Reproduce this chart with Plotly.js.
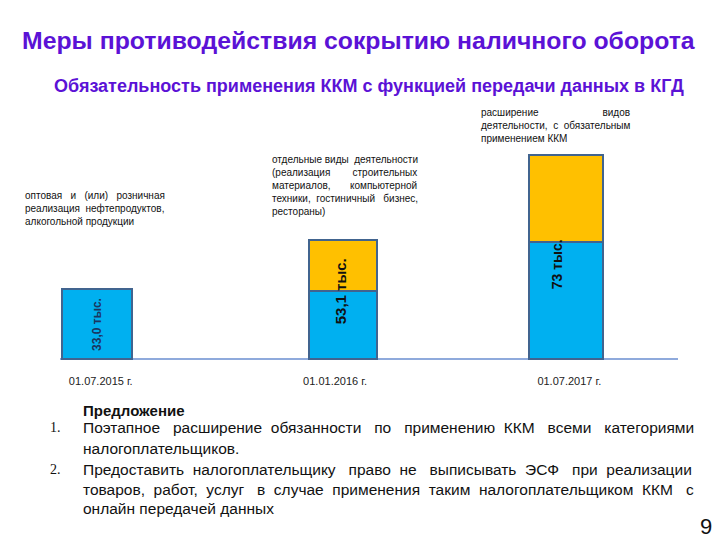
<!DOCTYPE html>
<html><head><meta charset="utf-8">
<script src="https://cdn.plot.ly/plotly-3.0.1.min.js"></script>
<style>body{margin:0;background:#fff}#chart{width:720px;height:540px}</style>
</head><body><div id="chart"></div>
<script>
// ---- data ----
const categories = ['01.07.2015 г.', '01.01.2016 г.', '01.07.2017 г.'];
const baseSegment = [33.0, 32.1, 55.4];   // blue part (bar height as drawn)
const addedSegment = [0, 24.3, 41.1];     // yellow part (bar height as drawn)
const barLabels = ['33,0 тыс.', '53,1 тыс.', '73 тыс.'];

const titleText = 'Меры противодействия сокрытию наличного оборота';
const subtitleText = 'Обязательность применения ККМ с функцией передачи данных в КГД';
const note1 = ['оптовая и (или) розничная', 'реализация нефтепродуктов,', 'алкогольной продукции'];
const note2 = ['отдельные виды деятельности', '(реализация строительных', 'материалов, компьютерной',
               'техники, гостиничный бизнес,', 'рестораны)'];
const note3 = ['расширение видов', 'деятельности, с обязательным', 'применением ККМ'];
const proposalHead = 'Предложение';
const proposalNums = ['1.', '', '2.', '', ''];
const proposalLines = [
  'Поэтапное расширение обязанности по применению ККМ всеми категориями',
  'налогоплательщиков.',
  'Предоставить налогоплательщику право не выписывать ЭСФ при реализации',
  'товаров, работ, услуг в случае применения таким налогоплательщиком ККМ с',
  'онлайн передачей данных'
];
const pageNumber = '9';

// ---- layout helpers ----
const L = 60, R = 42, T = 100, B = 178, W = 720 - L - R, H = 540 - T - B;
const px = X => (X - L) / W, py = Y => (540 - B - Y) / H;
const FAM = 'Liberation Sans';
const FONT = FAM + ', Arial, sans-serif';
function ann(text, X, Y, font, extra) {
  return Object.assign({text: text, xref: 'paper', yref: 'paper', x: px(X - 2), y: py(Y),
    xanchor: 'left', yanchor: 'middle', showarrow: false, align: 'left',
    font: Object.assign({family: FONT, size: 10, color: '#111'}, font)}, extra || {});
}
// justify a line to a given pixel width by widening the word gaps with no-break spaces
const ctx = document.createElement('canvas').getContext('2d');
function justify(text, target, size, bold) {
  ctx.font = (bold ? 'bold ' : '') + size + 'px "' + FAM + '"';
  const words = text.split(' ');
  if (words.length < 2) return text;
  const ww = words.reduce((s, w) => s + ctx.measureText(w).width, 0);
  const nb = ctx.measureText('\u00a0').width;
  const per = (target - ww) / (words.length - 1);
  let out = words[0], acc = 0, used = 0;
  for (let i = 1; i < words.length; i++) {
    acc += per;
    const k = Math.max(1, Math.round((acc - used) / nb));
    used += k * nb;
    out += '\u00a0'.repeat(k) + words[i];
  }
  return out;
}
const block = (lines, target, size) =>
  lines.map((l, i) => i < lines.length - 1 ? justify(l, target, size) : l).join('<br>');

const outline = {color: '#41648f', width: 2};
const barWidth = [0.295, 0.29, 0.316];
const barOffset = [-0.1635, -0.111, -0.174];
const traces = [
  {type: 'bar', x: categories, y: baseSegment, width: barWidth, offset: barOffset,
   marker: {color: '#00b0f0', line: outline}, hoverinfo: 'skip'},
  {type: 'bar', x: categories, y: addedSegment, width: barWidth, offset: barOffset,
   marker: {color: '#ffc000', line: outline}, hoverinfo: 'skip'}
];

const labelY = [baseSegment[0] / 2, baseSegment[1], baseSegment[2]];
const labelShiftX = [-4, 5, -12];
const labelShiftY = [0, 0, -22];
const labelSize = [12, 15, 14];
const labelColor = ['#1b3560', '#111', '#111'];

const annotations = [
  ann('<b>' + titleText + '</b>', 22, 40, {size: 24.8, color: '#5b12d6'}),
  ann('<b>' + subtitleText + '</b>', 54, 86, {size: 18, color: '#5b12d6'}),
  ann(block(note1, 140, 10), 25, 208, {}),
  ann(block(note2, 145, 10), 272, 185, {}),
  ann(block(note3, 150, 10), 481, 125, {}),
  ann('<b>' + proposalHead + '</b>', 83, 410, {size: 15, color: '#111'}),
  ann(pageNumber, 700, 526, {size: 22, color: '#111'})
];
const lineY = [428, 448, 469, 489, 508];
proposalLines.forEach((t, i) => {
  if (proposalNums[i]) annotations.push(ann(proposalNums[i], 50, lineY[i],
      {size: 14, family: 'Liberation Serif, Times New Roman, serif'}));
  const next = proposalLines[i + 1];
  const justified = next !== undefined && !proposalNums[i + 1];
  annotations.push(ann(justified ? justify(t, 609, 15.5) : t, 83, lineY[i], {size: 15.5}));
});
categories.forEach((c, i) => {
  annotations.push({text: '<b>' + barLabels[i] + '</b>', x: c, y: labelY[i], xref: 'x', yref: 'y',
    showarrow: false, textangle: -90, xanchor: 'center', yanchor: 'middle',
    xshift: labelShiftX[i], yshift: labelShiftY[i],
    font: {family: FONT, size: labelSize[i], color: labelColor[i]}});
});

const layout = {
  width: 720, height: 540, margin: {l: L, r: R, t: T, b: B},
  paper_bgcolor: '#fff', plot_bgcolor: 'rgba(0,0,0,0)',
  barmode: 'stack', showlegend: false,
  xaxis: {type: 'category', range: [-0.174, 2.464], showgrid: false, showline: false,
          zeroline: false, ticks: '', ticklabelstandoff: 11,
          tickfont: {family: FONT, size: 11, color: '#222'}, fixedrange: true},
  yaxis: {range: [-1.42, 122.7], showgrid: false, showticklabels: false, ticks: '',
          zeroline: true, zerolinecolor: '#8faadc', zerolinewidth: 1.5, fixedrange: true},
  annotations: annotations
};
Plotly.newPlot('chart', traces, layout, {displayModeBar: false, staticPlot: true});
</script></body></html>
